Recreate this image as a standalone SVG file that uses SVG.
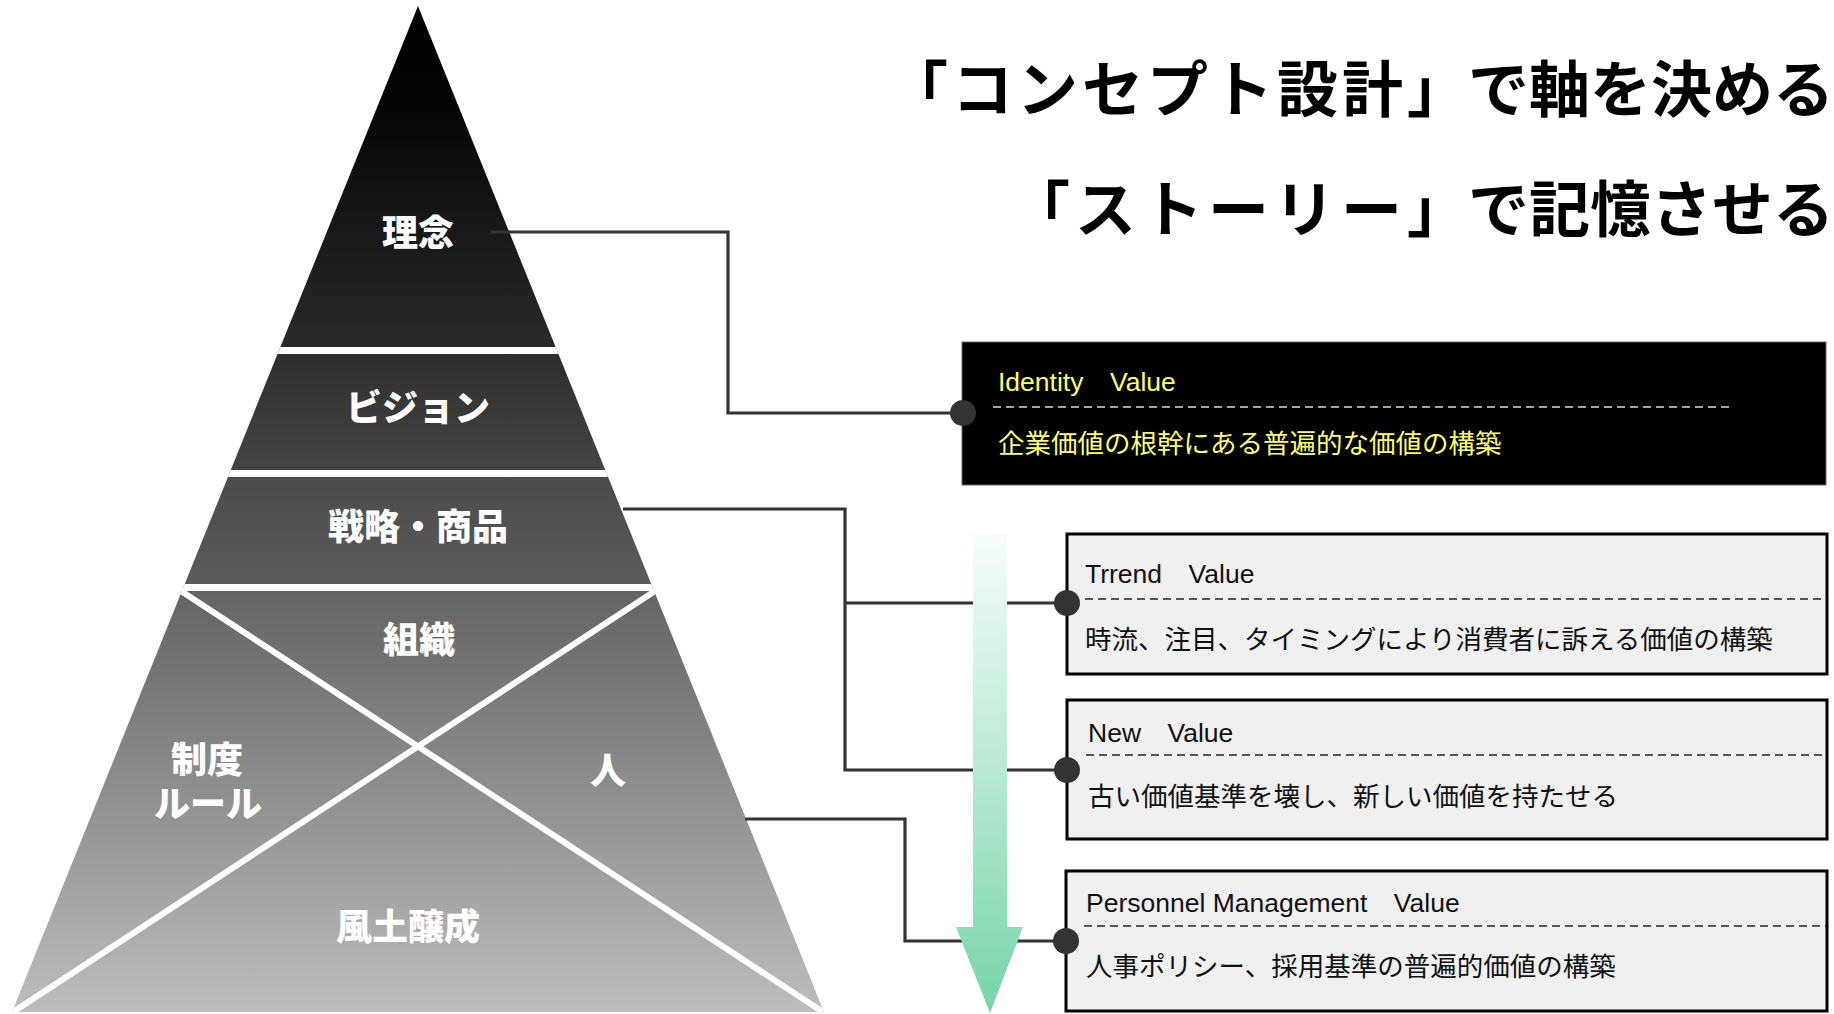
<svg xmlns="http://www.w3.org/2000/svg" width="1834" height="1014" viewBox="0 0 1834 1014">
  <style>
    .lbl { font-family: "Noto Sans CJK JP", sans-serif; font-weight: 900; font-size: 36px; fill: #ffffff; text-anchor: middle; }
    .title { font-family: "Noto Sans CJK JP", sans-serif; font-weight: 700; font-size: 61px; fill: #000000; }
    .bt { font-family: "Liberation Sans", "Noto Sans CJK JP", sans-serif; font-size: 26.5px; fill: #111111; }
    .yt { fill: #ffff66; }
    .sep { stroke: #ffffff; stroke-width: 7; }
    .xl { stroke: #ffffff; stroke-width: 6; }
    .conn { fill: none; stroke: #333333; stroke-width: 3.2; }
    .dot { fill: #333333; }
    .boxl { fill: #f0f0f0; stroke: #000000; stroke-width: 3; }
    .boxd { fill: #000000; stroke: #666666; stroke-width: 1; }
    .dash { stroke: #222222; stroke-width: 1.6; stroke-dasharray: 8 5; }
    .dashw { stroke: #dddddd; stroke-width: 1.6; stroke-dasharray: 8 5; }
  </style>
  <defs>
    <linearGradient id="pyr" gradientUnits="userSpaceOnUse" x1="0" y1="6" x2="0" y2="1012">
      <stop offset="0" stop-color="#000000"/>
      <stop offset="0.10" stop-color="#050505"/>
      <stop offset="0.34" stop-color="#2a2a2a"/>
      <stop offset="0.346" stop-color="#2e2e2e"/>
      <stop offset="0.461" stop-color="#444444"/>
      <stop offset="0.468" stop-color="#4b4b4b"/>
      <stop offset="0.575" stop-color="#5b5b5b"/>
      <stop offset="0.582" stop-color="#646464"/>
      <stop offset="1" stop-color="#bdbdbd"/>
    </linearGradient>
    <linearGradient id="arr" gradientUnits="userSpaceOnUse" x1="0" y1="533" x2="0" y2="1013">
      <stop offset="0" stop-color="#f8fdfb"/>
      <stop offset="1" stop-color="#76d4aa"/>
    </linearGradient>
    <clipPath id="tri">
      <polygon points="418,6 824,1012 12,1012"/>
    </clipPath>
  </defs>

  <g id="pyramid">
    <polygon points="418,6 824,1012 12,1012" fill="url(#pyr)"/>
    <g clip-path="url(#tri)">
      <line class="sep" x1="0" y1="350.5" x2="840" y2="350.5"/>
      <line class="sep" x1="0" y1="473.5" x2="840" y2="473.5"/>
      <line class="sep" x1="0" y1="587.5" x2="840" y2="587.5"/>
      <line class="xl" x1="181" y1="591" x2="823" y2="1012"/>
      <line class="xl" x1="655" y1="591" x2="13" y2="1012"/>
    </g>
  </g>

  <g id="title">
    <text class="title" x="887 952 1017 1082 1147 1212 1277 1342 1407 1468 1529 1590 1651 1712 1773" y="112">「コンセプト設計」で軸を決める</text>
    <text class="title" x="1009 1075 1142 1208 1274 1341 1407 1468 1529 1590 1651 1712 1773" y="232">「ストーリー」で記憶させる</text>
  </g>

  <g id="connectors">
    <path class="conn" d="M491 232 H728 V413 H963"/>
    <path class="conn" d="M623 509 H845 V770 H1067 M845 603 H1067"/>
    <path class="conn" d="M745 819 H905 V941 H1067"/>
  </g>

  <g id="arrow">
    <polygon points="973,533 1007,533 1007,927 1023,927 990,1013 956,927 973,927" fill="url(#arr)"/>
  </g>

  <g id="node-rinen"><text class="lbl" x="418" y="246">理念</text></g>
  <g id="node-vision"><text class="lbl" x="418" y="421">ビジョン</text></g>
  <g id="node-senryaku"><text class="lbl" x="418" y="540">戦略・商品</text></g>
  <g id="node-soshiki"><text class="lbl" x="419" y="653">組織</text></g>
  <g id="node-seido"><text class="lbl" x="207" y="773">制度<tspan x="208" y="817">ルール</tspan></text></g>
  <g id="node-hito"><text class="lbl" x="608" y="784">人</text></g>
  <g id="node-fudo"><text class="lbl" x="408" y="940">風土醸成</text></g>

  <g id="box-identity">
    <rect class="boxd" x="962" y="342" width="864" height="143"/>
    <line class="dashw" x1="993" y1="407" x2="1734" y2="407"/>
    <text class="bt yt" x="998" y="391">Identity　Value</text>
    <text class="bt yt" x="998" y="453">企業価値の根幹にある普遍的な価値の構築</text>
    <circle class="dot" cx="963" cy="413" r="13"/>
  </g>

  <g id="box-trend">
    <rect class="boxl" x="1067" y="534" width="760" height="140"/>
    <line class="dash" x1="1085" y1="599" x2="1827" y2="599"/>
    <text class="bt" x="1085" y="583">Trrend　Value</text>
    <text class="bt" x="1085" y="649">時流、注目、タイミングにより消費者に訴える価値の構築</text>
    <circle class="dot" cx="1067" cy="603" r="13"/>
  </g>

  <g id="box-new">
    <rect class="boxl" x="1067" y="700" width="760" height="139"/>
    <line class="dash" x1="1086" y1="755" x2="1827" y2="755"/>
    <text class="bt" x="1088" y="742">New　Value</text>
    <text class="bt" x="1088" y="806">古い価値基準を壊し、新しい価値を持たせる</text>
    <circle class="dot" cx="1067" cy="770" r="13"/>
  </g>

  <g id="box-personnel">
    <rect class="boxl" x="1066" y="871" width="761" height="140"/>
    <line class="dash" x1="1084" y1="926" x2="1826" y2="926"/>
    <text class="bt" x="1086" y="912">Personnel Management　Value</text>
    <text class="bt" x="1086" y="976">人事ポリシー、採用基準の普遍的価値の構築</text>
    <circle class="dot" cx="1066" cy="941" r="13"/>
  </g>
</svg>
